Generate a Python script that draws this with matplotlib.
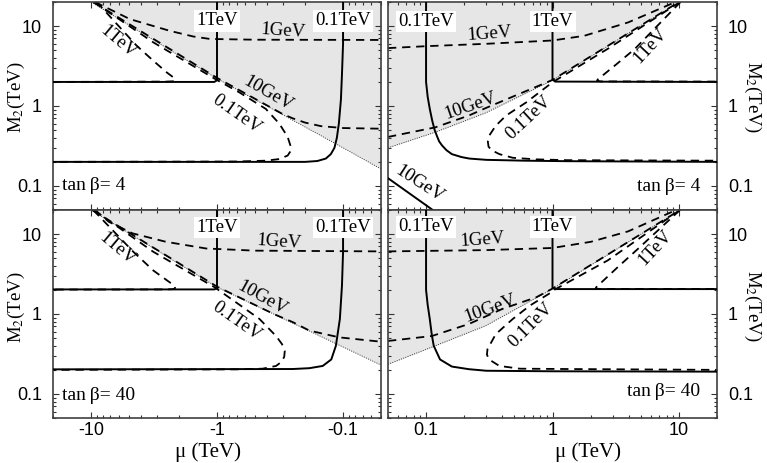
import numpy as np
import matplotlib
matplotlib.use("Agg")
import matplotlib.pyplot as plt
from matplotlib.ticker import FixedLocator, FixedFormatter, LogLocator, NullFormatter

plt.rcParams['font.family'] = ['Liberation Sans', 'DejaVu Sans']
plt.rcParams['mathtext.fontset'] = 'stix'
SERIF = ['Liberation Serif', 'DejaVu Serif']

# ---------------- data: (mu [TeV], M2 [TeV]) ----------------
# tan(beta) = 4, mu < 0
tl_bound = [(-10, 20), (-1, 2.2), (-0.1, 0.30), (-0.05, 0.163)]
tl_1gev = [(-9.3, 20), (-4.9, 12.2), (-2.36, 8.7), (-1.54, 7.4), (-1.14, 6.9), (-0.5, 6.75), (-0.05, 6.7)]
tl_10gev = [(-9.6, 20), (-1, 2.25), (-0.3, 0.79), (-0.25, 0.70), (-0.2, 0.62), (-0.15, 0.56),
            (-0.1, 0.53), (-0.05, 0.52)]
tl_100gev = [(-9.5, 20), (-3.2, 6.25), (-1.02, 2.15), (-0.665, 1.48), (-0.41, 0.92), (-0.32, 0.6),
             (-0.275, 0.41), (-0.259, 0.305), (-0.262, 0.27), (-0.275, 0.24), (-0.32, 0.217),
             (-0.41, 0.207), (-0.7, 0.202), (-20, 0.2)]
tl_1tev = [(-9.0, 20), (-4.35, 5.7), (-3.2, 3.68), (-2.51, 2.64), (-2.22, 2.28), (-2.15, 2.12),
           (-2.2, 2.04), (-2.5, 2.02), (-20, 2.0)]
tl_100gev_s = [(-20, 0.2), (-0.2, 0.2), (-0.16, 0.205), (-0.137, 0.22), (-0.125, 0.25), (-0.117, 0.30),
               (-0.112, 0.4), (-0.108, 0.6), (-0.104, 1.2), (-0.102, 2.5), (-0.1, 6), (-0.1, 20)]
tl_1tev_s = [(-20, 2.0), (-1.05, 2.0), (-1.0, 2.1), (-1.0, 20)]

# tan(beta) = 4, mu > 0
tr_bound = [(0.05, 0.30), (0.118, 0.47), (0.296, 0.82), (1, 2.1), (10, 20)]
tr_1gev = [(0.05, 5.3), (0.1, 5.6), (0.3, 6.0), (1, 6.6), (1.78, 7.55), (3.96, 11.1), (9.4, 20)]
tr_10gev = [(0.05, 0.41), (0.118, 0.54), (0.218, 0.76), (0.3, 0.95), (1, 2.12), (10, 20)]
tr_100gev = [(10.2, 20), (2.74, 5.2), (1.0, 1.98), (0.62, 1.11), (0.43, 0.76), (0.356, 0.567),
             (0.32, 0.44), (0.308, 0.36), (0.312, 0.31), (0.33, 0.28), (0.38, 0.25), (0.485, 0.225),
             (0.745, 0.215), (1.3, 0.21), (20, 0.207)]
tr_1tev = [(10.3, 20), (4.47, 5.16), (3.1, 3.19), (2.28, 2.15), (2.25, 2.07), (2.4, 2.03), (20, 2.02)]
tr_100gev_s = [(0.1, 20), (0.1, 2.0), (0.103, 1.3), (0.107, 0.92), (0.112, 0.65), (0.117, 0.5),
               (0.122, 0.42), (0.127, 0.36), (0.134, 0.32), (0.145, 0.28), (0.16, 0.25), (0.19, 0.23),
               (0.22, 0.22), (0.3, 0.212), (0.6, 0.207), (1.3, 0.204), (20, 0.2)]
tr_1tev_s = [(1, 20), (1, 2.15), (1.05, 2.02), (20, 2.0)]
tr_10gev_s = [(0.05, 0.125), (0.113, 0.05)]

# tan(beta) = 40, mu < 0
bl_bound = [(-10, 20), (-1, 2.17), (-0.05, 0.23)]
bl_1gev = [(-9.3, 20), (-7.2, 14.2), (-4.67, 10.2), (-2.54, 8.0), (-1.22, 6.6), (-0.5, 6.2), (-0.05, 6.07)]
bl_10gev = [(-9.8, 20), (-1, 2.2), (-0.35, 0.99), (-0.25, 0.79), (-0.185, 0.62), (-0.107, 0.51),
            (-0.05, 0.45)]
bl_100gev = [(-9.5, 20), (-3.2, 6.0), (-1.05, 2.17), (-0.707, 1.40), (-0.46, 0.866), (-0.34, 0.53),
             (-0.305, 0.42), (-0.29, 0.345), (-0.293, 0.29), (-0.31, 0.25), (-0.34, 0.224),
             (-0.435, 0.207), (-0.7, 0.203), (-20, 0.2)]
bl_1tev = [(-9.6, 20), (-4.6, 5.98), (-3.2, 3.5), (-2.22, 2.31), (-2.15, 2.12), (-2.2, 2.05),
           (-2.5, 2.03), (-20, 2.02)]
bl_100gev_s = [(-20, 0.203), (-0.25, 0.205), (-0.185, 0.21), (-0.145, 0.224), (-0.124, 0.27),
               (-0.114, 0.40), (-0.106, 0.865), (-0.102, 2.27), (-0.1, 6), (-0.1, 20)]
bl_1tev_s = [(-20, 2.03), (-1.05, 2.03), (-1.0, 2.1), (-1.0, 20)]

# tan(beta) = 40, mu > 0
br_bound = [(0.05, 0.235), (0.118, 0.40), (0.296, 0.713), (1, 2.06), (10.2, 20)]
br_1gev = [(0.05, 6.07), (0.3, 6.3), (1, 6.7), (2.01, 8.0), (3.96, 10.8), (9.5, 20)]
br_10gev = [(0.05, 0.46), (0.111, 0.53), (0.218, 0.75), (0.403, 1.16), (0.745, 1.62), (1, 2.08),
            (10.2, 20)]
br_100gev = [(10.2, 20), (2.74, 4.69), (1.0, 1.95), (0.98, 1.87), (0.66, 1.27), (0.485, 0.866),
             (0.356, 0.56), (0.306, 0.363), (0.303, 0.31), (0.315, 0.27), (0.38, 0.224), (0.55, 0.207),
             (1.3, 0.205), (20, 0.2)]
br_1tev = [(10.2, 20), (4.76, 6.57), (3.29, 3.87), (2.21, 2.15), (2.2, 2.07), (2.4, 2.06), (20, 2.06)]
br_100gev_s = [(0.1, 20), (0.1, 2.0), (0.103, 1.3), (0.107, 0.866), (0.111, 0.55), (0.115, 0.40),
               (0.129, 0.27), (0.16, 0.22), (0.218, 0.204), (0.3, 0.195), (1, 0.192), (20, 0.19)]
br_1tev_s = [(1, 20), (1, 2.12), (1.05, 2.05), (20, 2.05)]

tanb_labels = ["tan\u2009β= 4", "tan\u2009β= 4", "tan\u2009β= 40", "tan\u2009β= 40"]
xtick_vals = [0.1, 1, 10]
xtick_neg = ["-0.1", "-1", "-10"]
xtick_pos = ["0.1", "1", "10"]
ytick_vals = [0.1, 1, 10]
ytick_lab = ["0.1", "1", "10"]

# curve labels: (text, mu, M2, rotation)
tl_texts = [("1GeV", -0.30, 8.6, -4), ("1TeV", -6.1, 6.3, -40), ("10GeV", -0.39, 1.41, -30),
            ("0.1TeV", -0.70, 0.79, -35)]
tr_texts = [("1GeV", 0.315, 7.9, 4), ("10GeV", 0.225, 1.0, 19), ("0.1TeV", 0.65, 0.72, 43),
            ("1TeV", 5.9, 5.7, 47), ("10GeV", 0.089, 0.106, -33)]
bl_texts = [("1GeV", -0.32, 8.0, -4), ("1TeV", -6.2, 6.6, -40), ("10GeV", -0.44, 1.57, -29),
            ("0.1TeV", -0.70, 0.82, -35)]
br_texts = [("1GeV", 0.28, 8.4, 4), ("10GeV", 0.32, 1.18, 20), ("0.1TeV", 0.667, 0.73, 45),
            ("1TeV", 6.45, 6.7, 47)]
# boxed labels on the vertical solid lines: (text, mu, M2)
tl_boxes = [("1TeV", -1, 11.6), ("0.1TeV", -0.1, 11.6)]
tr_boxes = [("0.1TeV", 0.1, 11.4), ("1TeV", 1, 11.4)]
bl_boxes = [("1TeV", -1, 12.1), ("0.1TeV", -0.1, 12.1)]
br_boxes = [("0.1TeV", 0.1, 12.3), ("1TeV", 1, 12.3)]

# ---------------- figure ----------------
W, H = 767, 463
fig = plt.figure(figsize=(W / 100, H / 100), dpi=100)


def add_ax(x0, x1, y0, y1):
    return fig.add_axes([x0 / W, 1 - y1 / H, (x1 - x0) / W, (y1 - y0) / H])


ax_tl = add_ax(53, 381, 2, 210)
ax_tr = add_ax(388, 717, 2, 210)
ax_bl = add_ax(53, 381, 210, 418)
ax_br = add_ax(388, 717, 210, 418)

GRAY = '#e6e6e6'


def xy(pts):
    return np.abs([p[0] for p in pts]), np.array([p[1] for p in pts])


def solid(ax, pts):
    x, y = xy(pts)
    ax.plot(x, y, color='black', lw=1.4, zorder=3, solid_joinstyle='round')


def dashed(ax, pts):
    x, y = xy(pts)
    ax.plot(x, y, color='black', lw=1.3, dashes=(4.6, 3.2), zorder=2)


def dotted(ax, pts):
    x, y = xy(pts)
    ax.plot(x, y, color='#222222', lw=0.6, dashes=(1.2, 1.6), zorder=2)
    ax.fill_between(x, y, 20, color=GRAY, lw=0, zorder=0)


panels = [
    (ax_tl, 'left', False, tl_bound, [tl_1gev, tl_10gev, tl_100gev, tl_1tev],
     [tl_100gev_s, tl_1tev_s], tl_texts, tl_boxes, 0),
    (ax_tr, 'right', False, tr_bound, [tr_1gev, tr_10gev, tr_100gev, tr_1tev],
     [tr_100gev_s, tr_1tev_s, tr_10gev_s], tr_texts, tr_boxes, 1),
    (ax_bl, 'left', True, bl_bound, [bl_1gev, bl_10gev, bl_100gev, bl_1tev],
     [bl_100gev_s, bl_1tev_s], bl_texts, bl_boxes, 2),
    (ax_br, 'right', True, br_bound, [br_1gev, br_10gev, br_100gev, br_1tev],
     [br_100gev_s, br_1tev_s], br_texts, br_boxes, 3),
]

for ax, side, bottom, bound, dsh, sol, texts, boxes, k in panels:
    ax.set_xscale('log')
    ax.set_yscale('log')
    if side == 'left':
        ax.set_xlim(20, 0.05)
    else:
        ax.set_xlim(0.05, 20)
    ax.set_ylim(0.05, 20)

    dotted(ax, bound)
    for c in dsh:
        dashed(ax, c)
    for c in sol:
        solid(ax, c)

    for t, m, y, r in texts:
        ax.text(abs(m), y, t, rotation=r, ha='center', va='center', fontsize=13.5, family=SERIF,
                rotation_mode='anchor', zorder=4)
    for t, m, y in boxes:
        ax.text(abs(m), y, t, ha='center', va='center', fontsize=13.5, zorder=5, family=SERIF,
                bbox=dict(boxstyle='square,pad=0.12', fc='white', ec='none'))

    if side == 'left':
        ax.text(0.027, 0.12 if k == 0 else 0.11, tanb_labels[k], transform=ax.transAxes,
                ha='left', va='center', fontsize=14, family=SERIF)
    else:
        ax.text(0.95, 0.112 if k == 1 else 0.126, tanb_labels[k], transform=ax.transAxes,
                ha='right', va='center', fontsize=14, family=SERIF)

    ax.xaxis.set_major_locator(FixedLocator(xtick_vals))
    ax.xaxis.set_major_formatter(FixedFormatter(xtick_neg if side == 'left' else xtick_pos))
    ax.xaxis.set_minor_locator(LogLocator(base=10, subs=np.arange(2, 10), numticks=20))
    ax.xaxis.set_minor_formatter(NullFormatter())
    ax.yaxis.set_major_locator(FixedLocator(ytick_vals))
    ax.yaxis.set_major_formatter(FixedFormatter(ytick_lab))
    ax.yaxis.set_minor_locator(LogLocator(base=10, subs=np.arange(2, 10), numticks=20))
    ax.yaxis.set_minor_formatter(NullFormatter())

    ax.tick_params(which='both', direction='in', top=True, bottom=True, left=True, right=True,
                   width=0.8, color='#333333')
    ax.tick_params(which='major', length=4.5)
    ax.tick_params(which='minor', length=2.5)
    ax.tick_params(axis='x', labelbottom=bottom, pad=3, labelsize=13)
    ax.tick_params(axis='y', labelleft=(side == 'left'), labelright=(side == 'right'), pad=8,
                   labelsize=13)
    for s in ax.spines.values():
        s.set_linewidth(1.2)
        s.set_color('#404040')

# axis titles
ylab = "M$_2$(TeV)"
for xp, yp, rot in [(16, 97.5, 90), (16, 307.5, 90), (752.5, 96.5, -90), (752.5, 306, -90)]:
    fig.text(xp / W, 1 - yp / H, ylab, rotation=rot, ha='center', va='center', fontsize=13.5,
             family=SERIF)
for xp in (208, 588):
    fig.text(xp / W, 1 - 462 / H, "μ (TeV)", ha='center', va='bottom', fontsize=15, family=SERIF)

fig.savefig("out.png", dpi=100)
